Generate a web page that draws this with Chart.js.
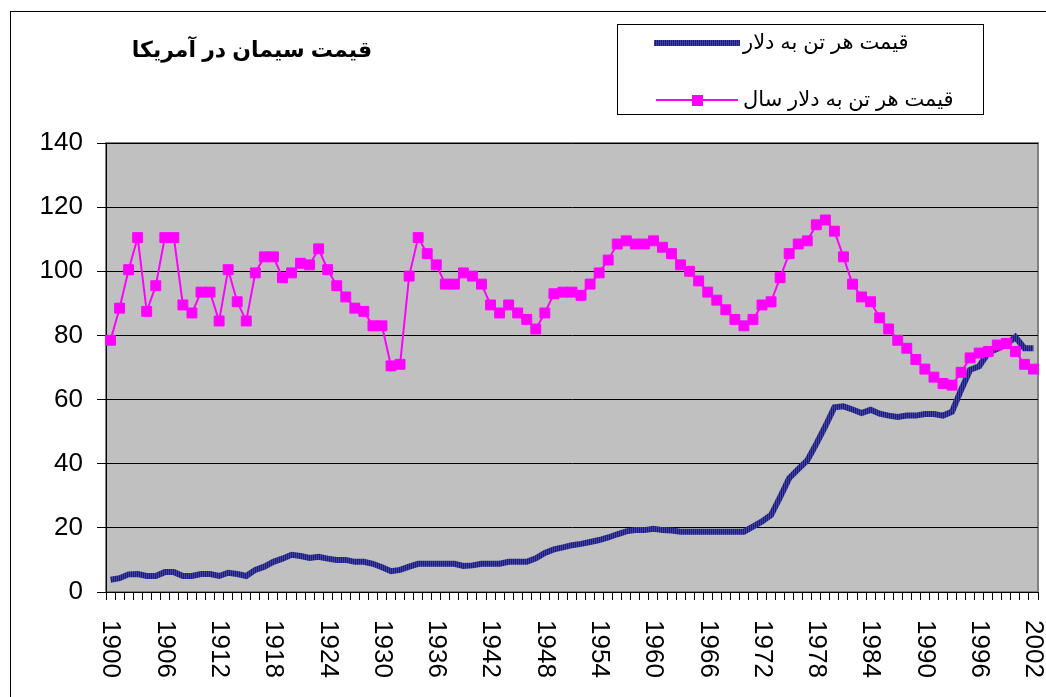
<!DOCTYPE html>
<html>
<head>
<meta charset="utf-8">
<script src="https://cdn.jsdelivr.net/npm/chart.js@4.4.1/dist/chart.umd.min.js"></script>
<style>
  body { margin: 0; background: #fff; }
  #wrap { width: 1046px; height: 697px; position: relative; }
</style>
</head>
<body>
<div id="wrap"><canvas id="myChart"></canvas></div>
<script>
const years = [
  1900,1901,1902,1903,1904,1905,1906,1907,1908,1909,
  1910,1911,1912,1913,1914,1915,1916,1917,1918,1919,
  1920,1921,1922,1923,1924,1925,1926,1927,1928,1929,
  1930,1931,1932,1933,1934,1935,1936,1937,1938,1939,
  1940,1941,1942,1943,1944,1945,1946,1947,1948,1949,
  1950,1951,1952,1953,1954,1955,1956,1957,1958,1959,
  1960,1961,1962,1963,1964,1965,1966,1967,1968,1969,
  1970,1971,1972,1973,1974,1975,1976,1977,1978,1979,
  1980,1981,1982,1983,1984,1985,1986,1987,1988,1989,
  1990,1991,1992,1993,1994,1995,1996,1997,1998,1999,
  2000,2001,2002
];

// قیمت هر تن به دلار (nominal)
const pricePerTon = [
  3.8,4.3,5.5,5.6,5.0,5.0,6.2,6.2,5.0,5.0,
  5.6,5.6,5.0,6.0,5.6,5.0,6.9,7.9,9.4,10.4,
  11.6,11.2,10.6,11.0,10.4,10.0,10.0,9.4,9.4,8.8,
  7.7,6.5,6.9,7.9,8.8,8.8,8.8,8.8,8.8,8.1,
  8.3,8.8,8.8,8.8,9.4,9.4,9.4,10.5,12.2,13.3,
  13.9,14.6,15.0,15.6,16.2,17.0,18.0,18.9,19.3,19.3,
  19.7,19.3,19.2,18.8,18.8,18.8,18.8,18.8,18.8,18.8,
  18.8,20.4,22.0,24.0,29.6,35.5,38.3,41.0,46.2,51.7,
  57.6,57.9,56.9,55.8,56.8,55.6,55.0,54.6,55.0,55.0,
  55.5,55.5,55.0,56.2,63.0,69.3,70.4,74.6,75.8,77.2,
  79.5,76.0,76.0
];

// قیمت هر تن به دلار سال (real)
const pricePerTonReal = [
  78.5,88.5,100.5,110.5,87.5,95.5,110.5,110.5,89.5,87.0,
  93.5,93.5,84.5,100.5,90.5,84.5,99.5,104.5,104.5,98.0,
  99.5,102.5,102.0,107.0,100.5,95.5,92.0,88.5,87.5,83.0,
  83.0,70.5,71.0,98.5,110.5,105.5,102.0,96.0,96.0,99.5,
  98.5,96.0,89.5,87.0,89.5,87.0,85.0,82.0,87.0,93.0,
  93.5,93.5,92.5,96.0,99.5,103.5,108.5,109.5,108.5,108.5,
  109.5,107.5,105.5,102.0,100.0,97.0,93.5,91.0,88.0,85.0,
  83.0,85.0,89.5,90.5,98.0,105.5,108.5,109.5,114.5,116.0,
  112.5,104.5,96.0,92.0,90.5,85.5,82.0,78.5,76.0,72.5,
  69.5,67.0,65.0,64.5,68.5,73.0,74.5,75.0,77.0,77.5,
  75.0,71.0,69.5
];

const tickYears = [1900,1906,1912,1918,1924,1930,1936,1942,1948,1954,1960,1966,1972,1978,1984,1990,1996,2002];

const titleText = "قيمت سيمان در آمريكا";
const seriesNames = ["قيمت هر تن به دلار", "قيمت هر تن به دلار سال"];

const fontFamily = 'Arial, "Liberation Sans", "DejaVu Sans", sans-serif';

function stripes() {
  const c = document.createElement("canvas");
  c.width = 2; c.height = 2;
  const g = c.getContext("2d");
  g.fillStyle = "#4040aa";
  g.fillRect(0, 0, 2, 2);
  g.fillStyle = "#1e1e70";
  g.fillRect(1, 0, 1, 2);
  return g.createPattern(c, "repeat");
}
const blueStripes = stripes();

const decor = {
  id: "decor",
  beforeDraw(chart) {
    const { ctx, chartArea: a } = chart;
    ctx.save();
    ctx.fillStyle = "#fff";
    ctx.fillRect(0, 0, chart.width, chart.height);
    ctx.strokeStyle = "#000";
    ctx.lineWidth = 1;
    ctx.strokeRect(10.5, 11.5, 1200, 1000);
    ctx.fillStyle = "#c0c0c0";
    ctx.fillRect(a.left, a.top, a.right - a.left, a.bottom - a.top);
    ctx.strokeStyle = "#808080";
    ctx.lineWidth = 2;
    ctx.strokeRect(a.left, a.top, a.right - a.left, a.bottom - a.top);
    ctx.restore();
  },
  afterDraw(chart) {
    const { ctx } = chart;
    const xs = chart.scales.x;
    ctx.save();
    // x labels, rotated to read top-down
    ctx.fillStyle = "#000";
    ctx.font = "26px " + fontFamily;
    ctx.textAlign = "left";
    ctx.textBaseline = "middle";
    tickYears.forEach(function (y) {
      const px = xs.getPixelForValue(years.indexOf(y));
      ctx.save();
      ctx.translate(px, 620);
      ctx.rotate(Math.PI / 2);
      ctx.fillText(String(y), 0, 0);
      ctx.restore();
    });

    // title
    ctx.direction = "rtl";
    ctx.font = "bold 22px " + fontFamily;
    ctx.textAlign = "center";
    ctx.fillText(titleText, 252, 51);

    // legend
    ctx.direction = "ltr";
    ctx.strokeStyle = "#000";
    ctx.lineWidth = 1;
    ctx.strokeRect(617.5, 24.5, 366, 90);
    ctx.fillStyle = blueStripes;
    ctx.fillRect(654, 40, 86, 6);
    ctx.strokeStyle = "#ff00ff";
    ctx.lineWidth = 2;
    ctx.beginPath();
    ctx.moveTo(656, 100);
    ctx.lineTo(738, 100);
    ctx.stroke();
    ctx.fillStyle = "#ff00ff";
    ctx.fillRect(692, 95, 11, 11);
    ctx.fillStyle = "#000";
    ctx.font = "21px " + fontFamily;
    ctx.textAlign = "left";
    ctx.fillText(seriesNames[0], 743, 43);
    ctx.fillText(seriesNames[1], 743, 100);
    ctx.restore();
  }
};

new Chart("myChart", {
  type: "line",
  data: {
    labels: years,
    datasets: [
      {
        label: seriesNames[0],
        data: pricePerTon,
        borderColor: blueStripes,
        borderWidth: 6,
        pointRadius: 0,
        tension: 0,
        order: 2
      },
      {
        label: seriesNames[1],
        data: pricePerTonReal,
        borderColor: "#ff00ff",
        backgroundColor: "#ff00ff",
        borderWidth: 2,
        pointStyle: "rect",
        pointRadius: 7,
        pointBorderWidth: 1,
        pointBackgroundColor: "#ff00ff",
        pointBorderColor: "#ff00ff",
        tension: 0,
        order: 1
      }
    ]
  },
  options: {
    responsive: true,
    maintainAspectRatio: false,
    animation: false,
    layout: { padding: { top: 143, right: 8, left: 0, bottom: 0 } },
    plugins: {
      legend: { display: false },
      tooltip: { enabled: false },
      title: { display: false }
    },
    scales: {
      x: {
        type: "category",
        offset: true,
        grid: { offset: true, drawOnChartArea: false, drawTicks: true, tickLength: 8, color: "#000" },
        border: { display: true, color: "#000", width: 1 },
        ticks: { display: false, autoSkip: false },
        afterFit(scale) { scale.height = 105; }
      },
      y: {
        min: 0,
        max: 140,
        ticks: { stepSize: 20, color: "#000", padding: 14, font: { size: 26, family: fontFamily } },
        grid: { color: "#000", lineWidth: 1, tickLength: 9, drawTicks: true },
        border: { display: true, color: "#000", width: 1 },
        afterFit(scale) { scale.width = 106; }
      }
    }
  },
  plugins: [decor]
});
</script>
</body>
</html>
